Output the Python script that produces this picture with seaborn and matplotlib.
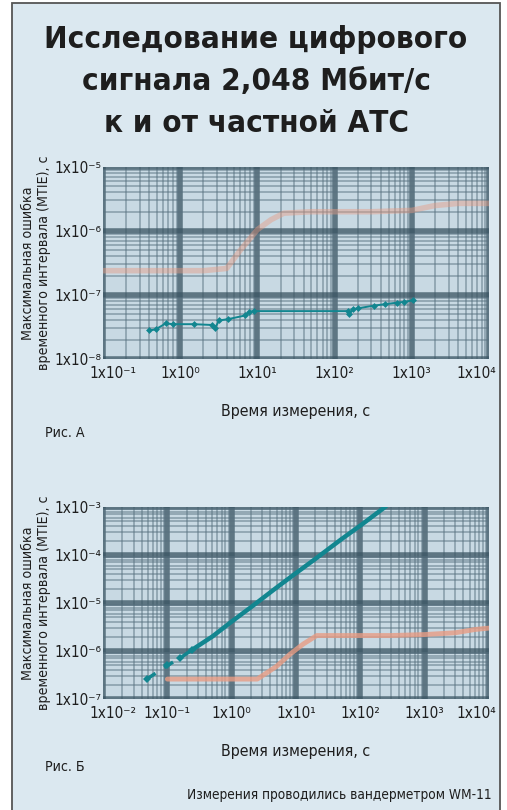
import numpy as np
import pandas as pd
import seaborn as sns
import matplotlib.pyplot as plt
import matplotlib.transforms as mtransforms
from matplotlib.patches import Rectangle
from matplotlib.ticker import FixedLocator, FuncFormatter, LogLocator, NullFormatter

# =========================
# Datos
# =========================
# Рис. А
a_orange_t = [0.1, 0.3, 1, 2, 4, 6, 10, 15, 22, 50, 100, 300, 1000, 2000, 4000, 10000]
a_orange_mtie = [2.4e-7, 2.4e-7, 2.4e-7, 2.4e-7, 2.6e-7, 5.0e-7, 1.05e-6, 1.5e-6, 1.9e-6,
                 2.0e-6, 2.0e-6, 2.0e-6, 2.1e-6, 2.5e-6, 2.7e-6, 2.7e-6]
a_teal_t = [0.4, 0.48, 0.65, 0.8, 1.5, 2.6, 2.8, 3.2, 4.2, 7.0, 7.8, 9, 150, 155, 175, 200,
            320, 450, 650, 800, 1050]
a_teal_mtie = [2.8e-8, 2.9e-8, 3.6e-8, 3.5e-8, 3.5e-8, 3.4e-8, 3.0e-8, 4.0e-8, 4.2e-8, 4.8e-8,
               5.5e-8, 5.6e-8, 5.6e-8, 5.0e-8, 6.0e-8, 6.2e-8, 6.8e-8, 7.2e-8, 7.6e-8, 7.8e-8, 8.3e-8]

# Рис. Б
b_orange_t = [0.1, 0.3, 1, 2.5, 5, 8, 13, 21, 50, 100, 300, 1000, 3000, 6000, 10000]
b_orange_mtie = [2.6e-7, 2.6e-7, 2.6e-7, 2.6e-7, 4.8e-7, 8.5e-7, 1.4e-6, 2.1e-6, 2.1e-6,
                 2.1e-6, 2.1e-6, 2.2e-6, 2.4e-6, 2.8e-6, 3.0e-6]
b_teal_sparse_t = [0.048, 0.1, 0.16, 0.24]
b_teal_sparse_mtie = [2.6e-7, 5.0e-7, 7.2e-7, 1.05e-6]
b_teal_t = [0.24, 0.5, 1, 2, 5, 10, 20, 50, 100, 250]
b_teal_mtie = [1.05e-6, 2.0e-6, 4.1e-6, 8.2e-6, 2.1e-5, 4.2e-5, 8.3e-5, 2.1e-4, 4.1e-4, 1.03e-3]

title_lines = ["Исследование цифрового", "сигнала 2,048 Мбит/с", "к и от частной АТС"]
ylabel = "Максимальная ошибка\nвременного интервала (MTIE), с"
xlabel = "Время измерения, с"
footer = "Измерения проводились вандерметром WM-11"

# =========================
# Estilo
# =========================
sns.set_style("white")
plt.rcParams['font.family'] = ['DejaVu Sans']
plt.rcParams['font.stretch'] = 'condensed'

BG = '#dbe8f0'
PLOT_BG = '#c8d9e3'
TEAL = '#128690'
ORANGE = '#e89c84'
TXT = '#1e1e1e'
SUP = str.maketrans("-0123456789", "⁻⁰¹²³⁴⁵⁶⁷⁸⁹")

W, H = 507, 810
fig = plt.figure(figsize=(W / 100, H / 100), dpi=100)
fig.patch.set_facecolor('white')
fig.patches.append(Rectangle((12 / W, -0.01), (500 - 12) / W, 1.01 - 3 / H,
                             transform=fig.transFigure, facecolor=BG,
                             edgecolor='#555555', lw=1.3, zorder=-10))

for i, line in enumerate(title_lines):
    fig.text(256 / W, 1 - (39 + 42 * i) / H, line, ha='center', va='center',
             fontsize=22.5, fontweight='bold', color=TXT)


def make_panel(rect, xlim, ylim):
    left, top, right, bottom = rect
    ax = fig.add_axes([left / W, 1 - bottom / H, (right - left) / W, (bottom - top) / H])
    ax.set_xscale('log')
    ax.set_yscale('log')
    ax.set_xlim(*xlim)
    ax.set_ylim(*ylim)
    ax.set_facecolor(PLOT_BG)
    for s in ax.spines.values():
        s.set_visible(False)
    xdec = 10.0 ** np.arange(np.log10(xlim[0]), np.log10(xlim[1]) + 1)
    ydec = 10.0 ** np.arange(np.log10(ylim[0]), np.log10(ylim[1]) + 1)
    ax.xaxis.set_major_locator(FixedLocator(xdec))
    ax.yaxis.set_major_locator(FixedLocator(ydec))
    ax.xaxis.set_minor_locator(LogLocator(base=10, subs=np.arange(2, 10)))
    ax.yaxis.set_minor_locator(LogLocator(base=10, subs=np.arange(2, 10)))
    ax.xaxis.set_minor_formatter(NullFormatter())
    ax.yaxis.set_minor_formatter(NullFormatter())
    fmt = FuncFormatter(lambda v, p: "1x10" + str(int(round(np.log10(v)))).translate(SUP))
    ax.xaxis.set_major_formatter(fmt)
    ax.yaxis.set_major_formatter(fmt)
    ax.tick_params(which='both', length=0, labelsize=11, labelcolor=TXT)
    ax.tick_params(axis='x', pad=5)
    ax.tick_params(axis='y', pad=1)
    ax.grid(which='minor', color='#587180', lw=1.2, alpha=0.55)
    ax.grid(which='major', color='#3b5563', lw=4, alpha=0.75)
    ax.set_axisbelow(True)
    # desplazar las etiquetas extremas hacia dentro
    ticks = ax.xaxis.get_major_ticks()
    for tk, dx in [(ticks[0], 7), (ticks[-1], -9)]:
        tk.label1.set_transform(tk.label1.get_transform() +
                                mtransforms.ScaledTranslation(dx / 72, 0, fig.dpi_scale_trans))
    return ax


def set_labels(ax):
    ax.set_xlabel(xlabel, fontsize=11.4, color=TXT)
    ax.set_ylabel(ylabel, fontsize=10.2, color=TXT, linespacing=1.15)
    ax.xaxis.set_label_coords(0.5, -0.234)
    ax.yaxis.set_label_coords(-0.135, 0.5)


# =========================
# Рис. А
# =========================
ax_a = make_panel((103, 167, 489, 359), (1e-1, 1e4), (1e-8, 1e-5))
df_a_or = pd.DataFrame({"t": a_orange_t, "mtie": a_orange_mtie})
df_a_te = pd.DataFrame({"t": a_teal_t, "mtie": a_teal_mtie})
sns.lineplot(data=df_a_or, x="t", y="mtie", ax=ax_a, color=ORANGE, lw=4, alpha=0.45,
             estimator=None, sort=False)
sns.lineplot(data=df_a_te, x="t", y="mtie", ax=ax_a, color=TEAL, lw=1.4,
             marker='D', markersize=3.5, markeredgewidth=0, estimator=None, sort=False)
set_labels(ax_a)

# =========================
# Рис. Б
# =========================
ax_b = make_panel((103, 507, 489, 699), (1e-2, 1e4), (1e-7, 1e-3))
df_b_or = pd.DataFrame({"t": b_orange_t, "mtie": b_orange_mtie})
df_b_sp = pd.DataFrame({"t": b_teal_sparse_t, "mtie": b_teal_sparse_mtie})
df_b_te = pd.DataFrame({"t": b_teal_t, "mtie": b_teal_mtie})
sns.lineplot(data=df_b_or, x="t", y="mtie", ax=ax_b, color=ORANGE, lw=3.5, alpha=0.8,
             estimator=None, sort=False)
sns.lineplot(data=df_b_sp, x="t", y="mtie", ax=ax_b, color=TEAL, lw=2.5, linestyle=(0, (3, 3)),
             marker='D', markersize=4, markeredgewidth=0, estimator=None, sort=False)
sns.lineplot(data=df_b_te, x="t", y="mtie", ax=ax_b, color=TEAL, lw=3.2,
             estimator=None, sort=False)
set_labels(ax_b)

fig.text(45 / W, 1 - 433 / H, "Рис. А", va='center', fontsize=10.2, color=TXT)
fig.text(45 / W, 1 - 767 / H, "Рис. Б", va='center', fontsize=10.2, color=TXT)
fig.text(492 / W, 1 - 795 / H, footer, ha='right', va='center', fontsize=9.8, color=TXT)

fig.savefig("out.png", dpi=100, facecolor=fig.get_facecolor())
